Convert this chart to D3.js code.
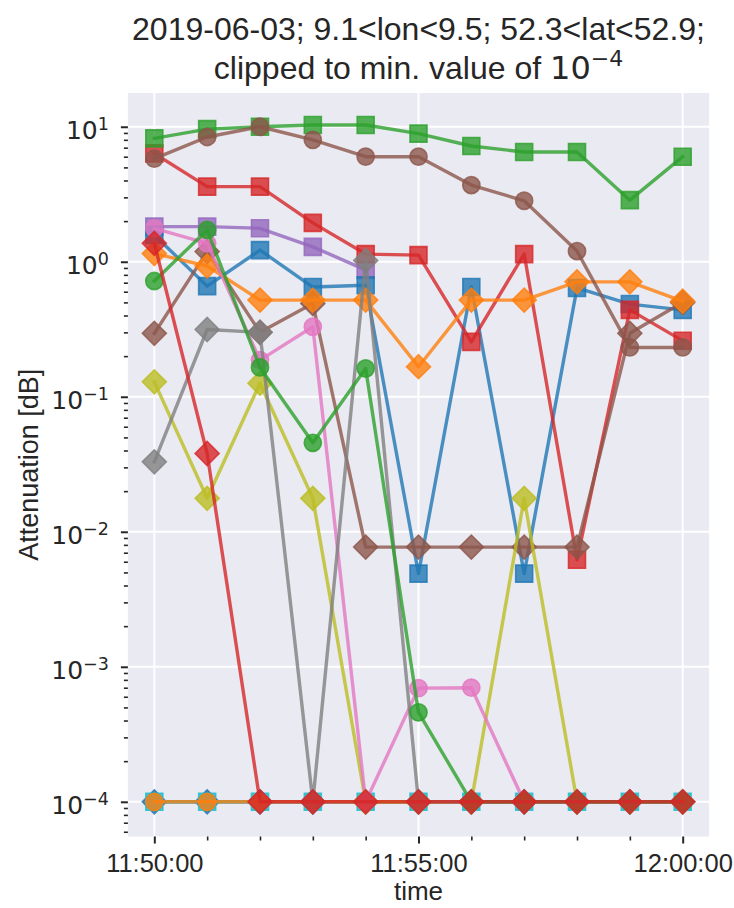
<!DOCTYPE html>
<html><head><meta charset="utf-8">
<script src="https://cdn.jsdelivr.net/npm/d3@7"></script>
<style>body{margin:0;background:#fff} svg{display:block}</style>
</head><body>
<svg id="chart" width="734" height="908"></svg>
<script>
// ---------- data ----------
const timeLabels = ["11:50","11:51","11:52","11:53","11:54","11:55","11:56","11:57","11:58","11:59","12:00"];
const E = 1e-4;
const bgBlueDiamond  = [E,E,E,E,E,E,E,E,E,E,E];
const bgCyanSquare   = [E,E,E,E,E,E,E,E,E,E,E];
const orangeCircle   = [E,E,E,E,E,E,E,E,E,E,E];
const purpleSquare   = [1.82,1.82,1.77,1.29,0.87,null,null,null,null,null,null];
const blueSquare     = [1.58,0.66,1.22,0.65,0.67,0.0049,0.65,0.0049,0.64,0.486,0.44];
const redSquare      = [6.35,3.6,3.6,1.94,1.14,1.12,0.255,1.14,0.0062,0.44,0.26];
const brownDiamond   = [0.295,1.19,0.30,0.49,0.0077,0.0077,0.0077,0.0077,0.0077,0.295,0.5];
const oliveDiamond   = [0.129,0.0177,0.126,0.0177,E,E,E,0.0177,E,E,E];
const orangeDiamond  = [1.15,0.93,0.52,0.52,0.52,0.167,0.52,0.52,0.71,0.71,0.51];
const greenSquare    = [8.2,9.6,10.0,10.3,10.3,8.9,7.2,6.5,6.5,2.86,6.0];
const pinkCircle     = [1.77,1.37,0.187,0.33,E,6.95e-4,7.0e-4,E,E,E,E];
const grayDiamond    = [0.033,0.315,0.30,E,1.02,E,E,E,E,E,E];
const greenCircle    = [0.72,1.72,0.165,0.0456,0.162,4.6e-4,E,E,E,E,E];
const brownCircle    = [5.8,8.4,10.0,8.0,6.0,6.0,3.7,2.83,1.2,0.232,0.232];
const redDiamond     = [1.37,0.038,E,E,E,E,E,E,E,E,E];

const xMajorTicks = ["11:50","11:55","12:00"];
const xTickLabels = ["11:50:00","11:55:00","12:00:00"];
const yMajorExps = [-4,-3,-2,-1,0,1];

// ---------- setup ----------
const tab = {C0:"#1f77b4",C1:"#ff7f0e",C2:"#2ca02c",C3:"#d62728",C4:"#9467bd",C5:"#8c564b",C6:"#e377c2",C7:"#7f7f7f",C8:"#bcbd22",C9:"#17becf"};
const series = [
  {v:bgBlueDiamond, c:tab.C0, m:"D"},
  {v:bgCyanSquare,  c:tab.C9, m:"s"},
  {v:orangeCircle,  c:tab.C1, m:"o"},
  {v:purpleSquare,  c:tab.C4, m:"s"},
  {v:blueSquare,    c:tab.C0, m:"s"},
  {v:redSquare,     c:tab.C3, m:"s"},
  {v:brownDiamond,  c:tab.C5, m:"D"},
  {v:oliveDiamond,  c:tab.C8, m:"D"},
  {v:orangeDiamond, c:tab.C1, m:"D"},
  {v:greenSquare,   c:tab.C2, m:"s"},
  {v:pinkCircle,    c:tab.C6, m:"o"},
  {v:grayDiamond,   c:tab.C7, m:"D"},
  {v:greenCircle,   c:tab.C2, m:"o"},
  {v:brownCircle,   c:tab.C5, m:"o"},
  {v:redDiamond,    c:tab.C3, m:"D"}
];

const parse = d3.timeParse("%H:%M");
const times = timeLabels.map(parse);
const svg = d3.select("#chart");
const L = 127.9, R = 709.1, T = 93, B = 836.5;
const x = d3.scaleTime().domain([d3.timeSecond.offset(times[0],-30), d3.timeSecond.offset(times[times.length-1],30)]).range([L,R]);
const y = d3.scaleLog().domain([Math.pow(10,-4.257), Math.pow(10,1.25)]).range([B,T]);
const textCol = "#262626";
const FONT = "'Liberation Sans', Arial, sans-serif";
const MATH = "'DejaVu Sans', sans-serif";

// background
svg.append("rect").attr("x",L).attr("y",T).attr("width",R-L).attr("height",B-T).attr("fill","#eaeaf2");

// grid
const g = svg.append("g");
g.selectAll(".gy").data(yMajorExps.map(e=>Math.pow(10,e))).join("line")
  .attr("x1",L).attr("x2",R).attr("y1",d=>y(d)).attr("y2",d=>y(d))
  .attr("stroke","#fff").attr("stroke-width",2);
g.selectAll(".gx").data(xMajorTicks.map(parse)).join("line")
  .attr("y1",T).attr("y2",B).attr("x1",d=>x(d)).attr("x2",d=>x(d))
  .attr("stroke","#fff").attr("stroke-width",2);

// axes
const xMinor = times.filter(t=>!xMajorTicks.includes(d3.timeFormat("%H:%M")(t)));
const xaMinor = svg.append("g").attr("transform",`translate(0,${B})`)
  .call(d3.axisBottom(x).tickValues(xMinor).tickSize(4).tickFormat(""));
xaMinor.select(".domain").remove();
xaMinor.selectAll("line").attr("stroke",textCol).attr("stroke-width",1.6);
const xaMajor = svg.append("g").attr("transform",`translate(0,${B})`)
  .call(d3.axisBottom(x).tickValues(xMajorTicks.map(parse)).tickSize(7).tickPadding(10)
    .tickFormat((d,i)=>xTickLabels[i]));
xaMajor.select(".domain").remove();
xaMajor.selectAll("line").attr("stroke",textCol).attr("stroke-width",2);
xaMajor.selectAll("text").attr("fill",textCol).style("font-family",FONT).style("font-size","25.5px");

const yMinorVals = [];
for (let e=-5;e<=1;e++) for (let k=2;k<=9;k++){const v=k*Math.pow(10,e); if (y(v)<=B+0.5 && y(v)>=T) yMinorVals.push(v);}
const yaMinor = svg.append("g").attr("transform",`translate(${L},0)`)
  .call(d3.axisLeft(y).tickValues(yMinorVals).tickSize(4).tickFormat(""));
yaMinor.select(".domain").remove();
yaMinor.selectAll("line").attr("stroke",textCol).attr("stroke-width",1.6);
const yaMajor = svg.append("g").attr("transform",`translate(${L},0)`)
  .call(d3.axisLeft(y).tickValues(yMajorExps.map(e=>Math.pow(10,e))).tickSize(7).tickPadding(12).tickFormat(""));
yaMajor.select(".domain").remove();
yaMajor.selectAll("line").attr("stroke",textCol).attr("stroke-width",2);
yaMajor.selectAll("text").each(function(d){
  const e = Math.round(Math.log10(d));
  const t = d3.select(this).attr("fill",textCol).style("font-family",MATH).style("font-size","25px")
     .attr("dy","0.45em");
  t.text(null);
  t.append("tspan").text("10");
  t.append("tspan").attr("dy","-0.5em").style("font-size","17.5px").text(e<0 ? "\u2212"+(-e) : String(e));
});

// axis labels
svg.append("text").attr("x",(L+R)/2).attr("y",900).attr("text-anchor","middle")
  .attr("fill",textCol).style("font-family",FONT).style("font-size","26px").text("time");
svg.append("text").attr("transform",`translate(38,${(T+B)/2}) rotate(-90)`).attr("text-anchor","middle")
  .attr("fill",textCol).style("font-family",FONT).style("font-size","27px").text("Attenuation [dB]");

// title
const title = svg.append("g").attr("fill",textCol);
title.append("text").attr("x",(L+R)/2).attr("y",40).attr("text-anchor","middle")
  .style("font-family",FONT).style("font-size","32px").text("2019-06-03; 9.1<lon<9.5; 52.3<lat<52.9;");
const t2 = title.append("text").attr("x",(L+R)/2).attr("y",79).attr("text-anchor","middle")
  .style("font-family",FONT).style("font-size","32px");
t2.append("tspan").text("clipped to min. value of ");
t2.append("tspan").style("font-family",MATH).text("10");
t2.append("tspan").style("font-family",MATH).style("font-size","22px").attr("dy","-0.6em").text("\u22124");

// series
const line = d3.line().defined(d=>d.v!=null).x(d=>x(d.t)).y(d=>y(d.v));
const symSquare = d3.symbol().type(d3.symbolSquare).size(17*17)();
const symCircle = d3.symbol().type(d3.symbolCircle).size(Math.PI*8.6*8.6)();
const plot = svg.append("g");
series.forEach(s=>{
  const pts = s.v.map((v,i)=>({t:times[i], v}));
  const sg = plot.append("g");
  sg.append("path").datum(pts).attr("d",line).attr("fill","none")
    .attr("stroke",s.c).attr("stroke-opacity",0.8).attr("stroke-width",3.4)
    .attr("stroke-linejoin","round").attr("stroke-linecap","square");
  sg.selectAll("path.mk").data(pts.filter(p=>p.v!=null)).join("path").attr("class","mk")
    .attr("d", s.m==="o" ? symCircle : symSquare)
    .attr("transform",p=>`translate(${x(p.t)},${y(p.v)})` + (s.m==="D" ? " rotate(45)" : ""))
    .attr("fill",s.c).attr("fill-opacity",0.8)
    .attr("stroke",s.c).attr("stroke-opacity",0.8).attr("stroke-width",1.6);
});
</script>
</body></html>
